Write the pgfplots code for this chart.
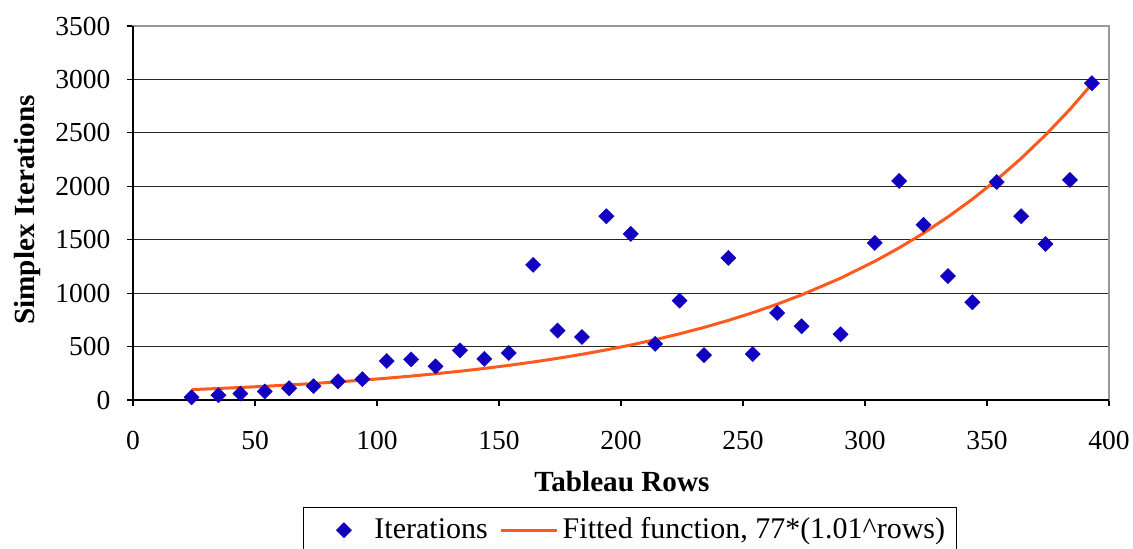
\documentclass[border=0pt]{standalone}
\usepackage{fontspec}
\setmainfont{Liberation Serif}
\usepackage{pgfplots}
\pgfplotsset{compat=1.18}

\definecolor{ptblue}{RGB}{17,0,192}
\definecolor{fitorange}{RGB}{255,90,30}

% legend images: one mark with room around it, and a longer line
\pgfplotsset{
  markleg/.style={legend image code/.code={%
    \path[draw=none, fill=none] (-16.75pt,0pt) -- (13.25pt,0pt);
    \draw[##1] plot coordinates {(0pt,0pt)};}},
  lineleg/.style={legend image code/.code={\draw[##1] (0pt,0pt) -- (28pt,0pt);}},
}

\begin{document}
\fontsize{13.75}{16.5}\selectfont
\begin{tikzpicture}
\begin{axis}[
  scale only axis,
  width=488pt, height=187pt,
  xmin=0, xmax=400, ymin=0, ymax=3500,
  xtick={0,50,...,400}, ytick={0,500,...,3500},
  tick align=outside, major tick length=3pt,
  tick style={black, line width=0.6pt},
  xtick pos=bottom, ytick pos=left,
  axis line style={draw=gray!80, line width=0.9pt},
  ymajorgrids, grid style={black!85, line width=0.6pt},
  /pgf/number format/assume math mode=true,
  /pgf/number format/1000 sep={},
  ticklabel style={font=\fontsize{13.75}{16.5}\selectfont},
  xticklabel style={yshift=-8pt},
  yticklabel style={xshift=-3.5pt},
  xlabel={\textbf{Tableau Rows}},
  ylabel={\textbf{Simplex Iterations}},
  label style={font=\fontsize{14.6}{17}\selectfont},
  xlabel style={at={(axis description cs:0.501,-0.219)}, anchor=center},
  ylabel style={at={(axis description cs:-0.1076,0.508)}, anchor=center},
  legend columns=2,
  legend style={at={(axis description cs:0.509,-0.286)}, anchor=north,
    draw=black, line width=0.6pt, inner xsep=3.5pt, inner ysep=3pt,
    font=\fontsize{15}{18}\selectfont,
    /tikz/every even column/.append style={column sep=4pt}},
  clip=false,
]
\addplot[only marks, mark=square*, mark size=2.65pt,
  mark options={rotate=45, fill=ptblue, draw=ptblue, line width=0.3pt},
  markleg]
  coordinates {
  (24,25) (35,45) (44,60) (54,80) (64,110) (74,130) (84,175) (94,195)
  (104,365) (114,380) (124,315) (134,465) (144,385) (154,440) (164,1265)
  (174,650) (184,590) (194,1720) (204,1555) (214,525) (224,930) (234,420)
  (244,1330) (254,430) (264,815) (274,690) (290,615) (304,1470) (314,2050)
  (324,1640) (334,1160) (344,915) (354,2040) (364,1720) (374,1460)
  (384,2060) (393,2965)
  };
\addlegendentry{Iterations}
\addplot[fitorange, line width=1.5pt, no marks, lineleg]
  coordinates {
  (24,97.4) (34,106.8) (44,117.2) (54,128.5) (64,141.0) (74,154.7)
  (84,169.6) (94,186.1) (104,204.1) (114,223.9) (124,245.6) (134,269.4)
  (144,295.5) (154,324.2) (164,355.6) (174,390.0) (184,427.8) (194,469.3)
  (204,514.8) (214,564.7) (224,619.4) (234,679.4) (244,745.2) (254,817.5)
  (264,896.7) (274,983.6) (290,1140.5) (304,1298.2) (314,1424.0)
  (324,1562.0) (334,1713.4) (344,1879.4) (354,2061.6) (364,2261.3)
  (374,2480.5) (384,2720.9) (393,2957.0)
  };
\addlegendentry{Fitted function, 77*(1.01\^{}rows)}
% black left and bottom axis lines over the grey frame
\draw[black, line width=0.9pt] (rel axis cs:0,1) -- (rel axis cs:0,0) -- (rel axis cs:1,0);
\end{axis}
\pgfresetboundingbox
\path[use as bounding box] (-66.5pt,-74pt) rectangle (500pt,200pt);
\end{tikzpicture}
\end{document}
